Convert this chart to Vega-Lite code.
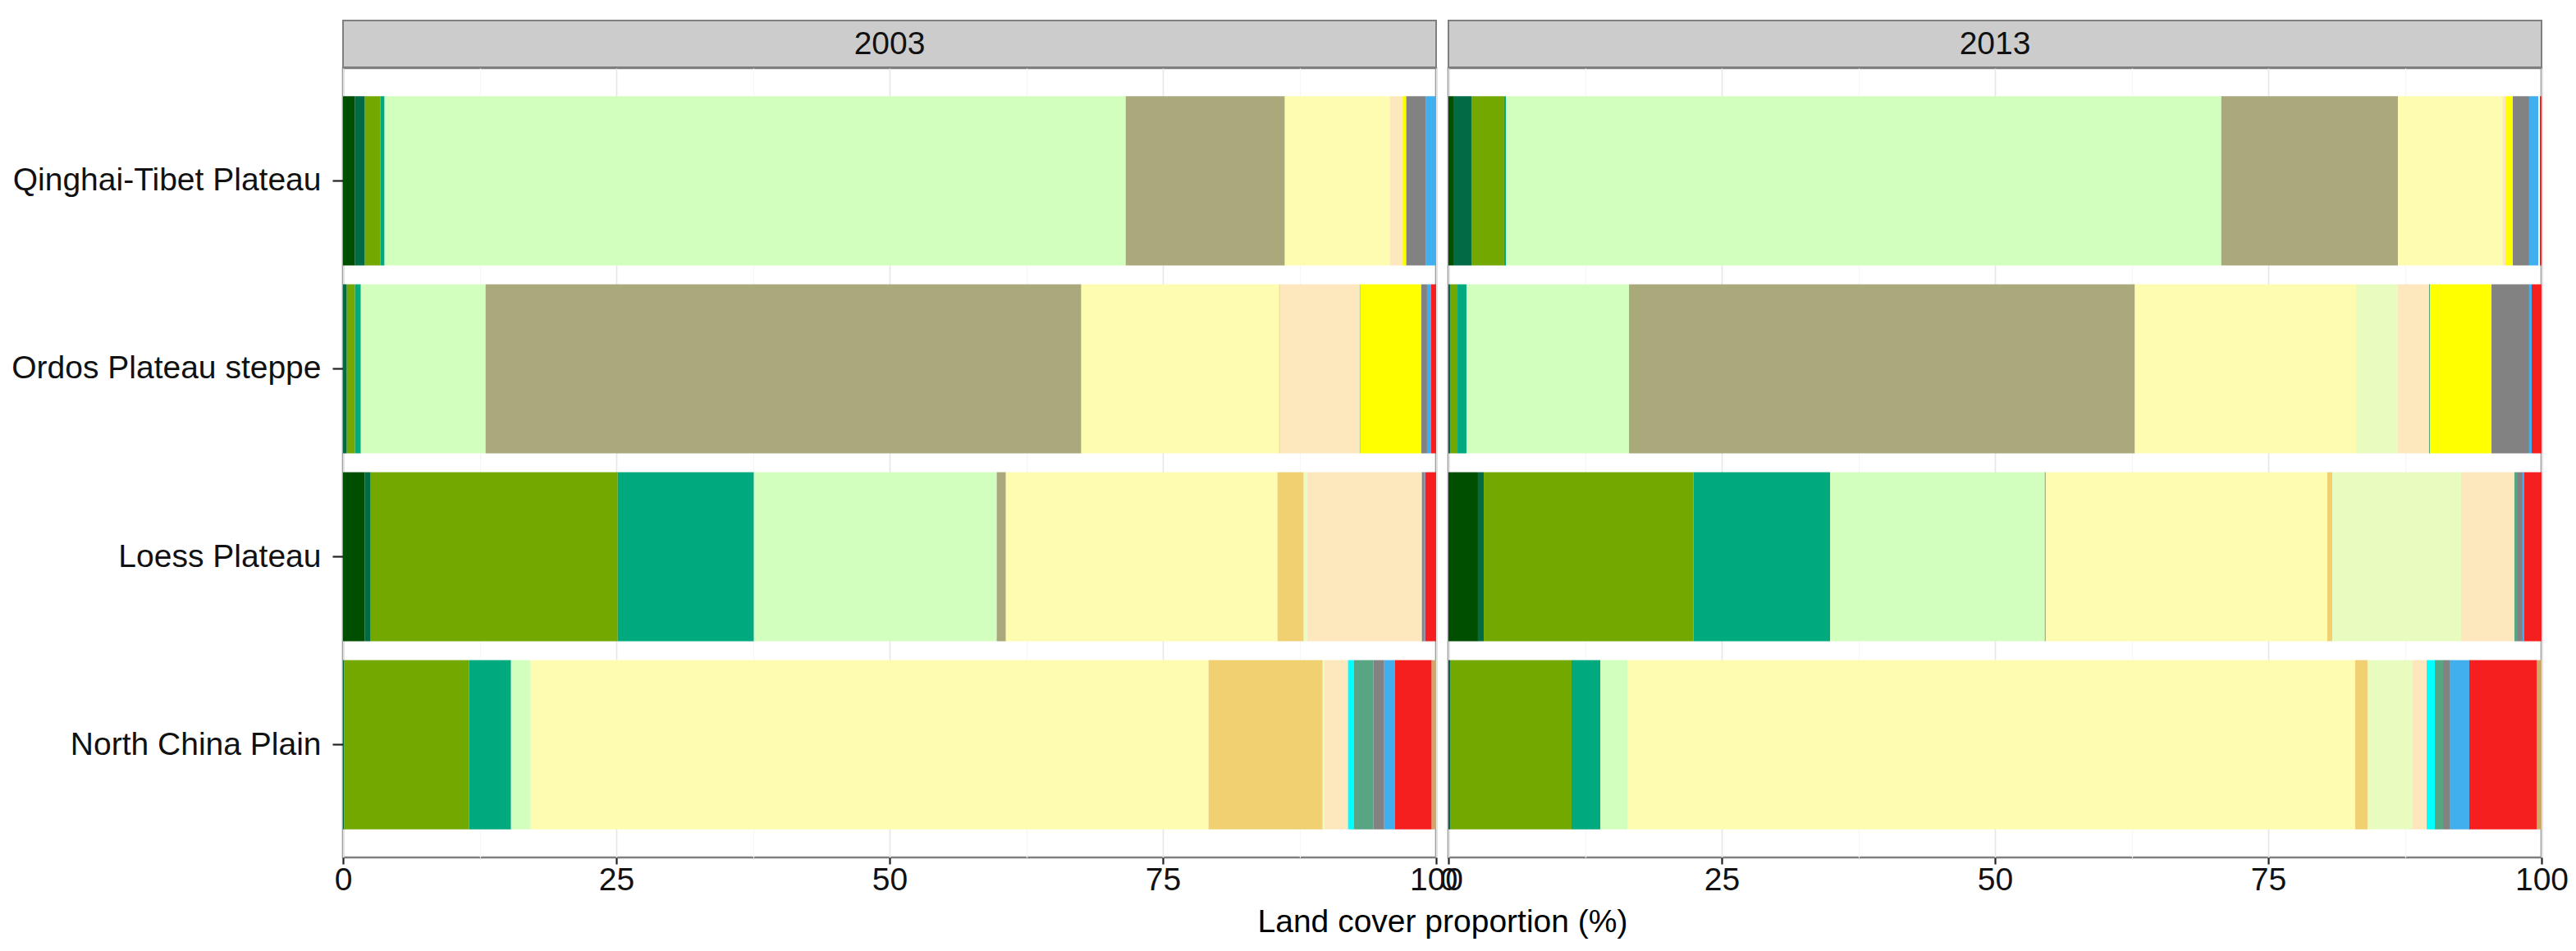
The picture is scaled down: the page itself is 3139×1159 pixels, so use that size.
{
  "$schema": "https://vega.github.io/schema/vega-lite/v6.json",
  "background": "white",
  "padding": {"left": 12, "top": 24, "right": 4, "bottom": 8},
  "config": {
    "font": "Liberation Sans",
    "view": {"stroke": null},
    "axis": {
      "labelFont": "Liberation Sans",
      "labelFontSize": 39,
      "labelColor": "#111111",
      "labelLimit": 0,
      "titleFont": "Liberation Sans",
      "titleFontSize": 39,
      "titleFontWeight": "normal",
      "titleColor": "#000000",
      "tickColor": "#222222",
      "tickWidth": 2.2,
      "domain": false
    }
  },
  "datasets": {
    "landcover": [
      {"region": "Qinghai-Tibet Plateau", "year": "2003", "code": 1, "class": "Evergreen needleleaf forest", "pct": 1.10},
      {"region": "Qinghai-Tibet Plateau", "year": "2003", "code": 2, "class": "Deciduous needleleaf forest", "pct": 0.90},
      {"region": "Qinghai-Tibet Plateau", "year": "2003", "code": 3, "class": "Deciduous broadleaf forest", "pct": 1.43},
      {"region": "Qinghai-Tibet Plateau", "year": "2003", "code": 4, "class": "Shrubland", "pct": 0.37},
      {"region": "Qinghai-Tibet Plateau", "year": "2003", "code": 5, "class": "Grassland", "pct": 67.80},
      {"region": "Qinghai-Tibet Plateau", "year": "2003", "code": 6, "class": "Sparse grassland", "pct": 14.56},
      {"region": "Qinghai-Tibet Plateau", "year": "2003", "code": 7, "class": "Cropland", "pct": 9.61},
      {"region": "Qinghai-Tibet Plateau", "year": "2003", "code": 10, "class": "Bare land", "pct": 1.13},
      {"region": "Qinghai-Tibet Plateau", "year": "2003", "code": 13, "class": "Sandy desert", "pct": 0.37},
      {"region": "Qinghai-Tibet Plateau", "year": "2003", "code": 14, "class": "Bare rock", "pct": 1.81},
      {"region": "Qinghai-Tibet Plateau", "year": "2003", "code": 15, "class": "Water", "pct": 0.92},

      {"region": "Ordos Plateau steppe", "year": "2003", "code": 2, "class": "Deciduous needleleaf forest", "pct": 0.35},
      {"region": "Ordos Plateau steppe", "year": "2003", "code": 3, "class": "Deciduous broadleaf forest", "pct": 0.75},
      {"region": "Ordos Plateau steppe", "year": "2003", "code": 4, "class": "Shrubland", "pct": 0.53},
      {"region": "Ordos Plateau steppe", "year": "2003", "code": 5, "class": "Grassland", "pct": 11.41},
      {"region": "Ordos Plateau steppe", "year": "2003", "code": 6, "class": "Sparse grassland", "pct": 54.50},
      {"region": "Ordos Plateau steppe", "year": "2003", "code": 7, "class": "Cropland", "pct": 18.10},
      {"region": "Ordos Plateau steppe", "year": "2003", "code": 8, "class": "Orchard", "pct": 0.08},
      {"region": "Ordos Plateau steppe", "year": "2003", "code": 10, "class": "Bare land", "pct": 7.29},
      {"region": "Ordos Plateau steppe", "year": "2003", "code": 11, "class": "Marsh", "pct": 0.07},
      {"region": "Ordos Plateau steppe", "year": "2003", "code": 13, "class": "Sandy desert", "pct": 5.56},
      {"region": "Ordos Plateau steppe", "year": "2003", "code": 14, "class": "Bare rock", "pct": 0.53},
      {"region": "Ordos Plateau steppe", "year": "2003", "code": 15, "class": "Water", "pct": 0.37},
      {"region": "Ordos Plateau steppe", "year": "2003", "code": 17, "class": "Built-up land", "pct": 0.46},

      {"region": "Loess Plateau", "year": "2003", "code": 1, "class": "Evergreen needleleaf forest", "pct": 2.00},
      {"region": "Loess Plateau", "year": "2003", "code": 2, "class": "Deciduous needleleaf forest", "pct": 0.53},
      {"region": "Loess Plateau", "year": "2003", "code": 3, "class": "Deciduous broadleaf forest", "pct": 22.60},
      {"region": "Loess Plateau", "year": "2003", "code": 4, "class": "Shrubland", "pct": 12.46},
      {"region": "Loess Plateau", "year": "2003", "code": 5, "class": "Grassland", "pct": 22.21},
      {"region": "Loess Plateau", "year": "2003", "code": 6, "class": "Sparse grassland", "pct": 0.84},
      {"region": "Loess Plateau", "year": "2003", "code": 7, "class": "Cropland", "pct": 24.85},
      {"region": "Loess Plateau", "year": "2003", "code": 8, "class": "Orchard", "pct": 2.40},
      {"region": "Loess Plateau", "year": "2003", "code": 9, "class": "Cropland/natural vegetation mosaic", "pct": 0.30},
      {"region": "Loess Plateau", "year": "2003", "code": 10, "class": "Bare land", "pct": 10.51},
      {"region": "Loess Plateau", "year": "2003", "code": 14, "class": "Bare rock", "pct": 0.17},
      {"region": "Loess Plateau", "year": "2003", "code": 15, "class": "Water", "pct": 0.13},
      {"region": "Loess Plateau", "year": "2003", "code": 17, "class": "Built-up land", "pct": 1.00},

      {"region": "North China Plain", "year": "2003", "code": 2, "class": "Deciduous needleleaf forest", "pct": 0.10},
      {"region": "North China Plain", "year": "2003", "code": 3, "class": "Deciduous broadleaf forest", "pct": 11.44},
      {"region": "North China Plain", "year": "2003", "code": 4, "class": "Shrubland", "pct": 3.83},
      {"region": "North China Plain", "year": "2003", "code": 5, "class": "Grassland", "pct": 1.80},
      {"region": "North China Plain", "year": "2003", "code": 7, "class": "Cropland", "pct": 62.01},
      {"region": "North China Plain", "year": "2003", "code": 8, "class": "Orchard", "pct": 10.44},
      {"region": "North China Plain", "year": "2003", "code": 9, "class": "Cropland/natural vegetation mosaic", "pct": 0.15},
      {"region": "North China Plain", "year": "2003", "code": 10, "class": "Bare land", "pct": 2.17},
      {"region": "North China Plain", "year": "2003", "code": 11, "class": "Marsh", "pct": 0.53},
      {"region": "North China Plain", "year": "2003", "code": 12, "class": "Wetland vegetation", "pct": 1.80},
      {"region": "North China Plain", "year": "2003", "code": 14, "class": "Bare rock", "pct": 0.98},
      {"region": "North China Plain", "year": "2003", "code": 15, "class": "Water", "pct": 0.97},
      {"region": "North China Plain", "year": "2003", "code": 17, "class": "Built-up land", "pct": 3.38},
      {"region": "North China Plain", "year": "2003", "code": 18, "class": "Other", "pct": 0.40},

      {"region": "Qinghai-Tibet Plateau", "year": "2013", "code": 1, "class": "Evergreen needleleaf forest", "pct": 0.45},
      {"region": "Qinghai-Tibet Plateau", "year": "2013", "code": 2, "class": "Deciduous needleleaf forest", "pct": 1.65},
      {"region": "Qinghai-Tibet Plateau", "year": "2013", "code": 3, "class": "Deciduous broadleaf forest", "pct": 3.00},
      {"region": "Qinghai-Tibet Plateau", "year": "2013", "code": 4, "class": "Shrubland", "pct": 0.16},
      {"region": "Qinghai-Tibet Plateau", "year": "2013", "code": 5, "class": "Grassland", "pct": 65.44},
      {"region": "Qinghai-Tibet Plateau", "year": "2013", "code": 6, "class": "Sparse grassland", "pct": 16.16},
      {"region": "Qinghai-Tibet Plateau", "year": "2013", "code": 7, "class": "Cropland", "pct": 9.61},
      {"region": "Qinghai-Tibet Plateau", "year": "2013", "code": 10, "class": "Bare land", "pct": 0.23},
      {"region": "Qinghai-Tibet Plateau", "year": "2013", "code": 13, "class": "Sandy desert", "pct": 0.67},
      {"region": "Qinghai-Tibet Plateau", "year": "2013", "code": 14, "class": "Bare rock", "pct": 1.50},
      {"region": "Qinghai-Tibet Plateau", "year": "2013", "code": 15, "class": "Water", "pct": 0.83},
      {"region": "Qinghai-Tibet Plateau", "year": "2013", "code": 16, "class": "Snow and ice", "pct": 0.15},
      {"region": "Qinghai-Tibet Plateau", "year": "2013", "code": 17, "class": "Built-up land", "pct": 0.15},

      {"region": "Ordos Plateau steppe", "year": "2013", "code": 2, "class": "Deciduous needleleaf forest", "pct": 0.15},
      {"region": "Ordos Plateau steppe", "year": "2013", "code": 3, "class": "Deciduous broadleaf forest", "pct": 0.68},
      {"region": "Ordos Plateau steppe", "year": "2013", "code": 4, "class": "Shrubland", "pct": 0.82},
      {"region": "Ordos Plateau steppe", "year": "2013", "code": 5, "class": "Grassland", "pct": 14.87},
      {"region": "Ordos Plateau steppe", "year": "2013", "code": 6, "class": "Sparse grassland", "pct": 46.28},
      {"region": "Ordos Plateau steppe", "year": "2013", "code": 7, "class": "Cropland", "pct": 20.23},
      {"region": "Ordos Plateau steppe", "year": "2013", "code": 9, "class": "Cropland/natural vegetation mosaic", "pct": 3.83},
      {"region": "Ordos Plateau steppe", "year": "2013", "code": 10, "class": "Bare land", "pct": 2.85},
      {"region": "Ordos Plateau steppe", "year": "2013", "code": 12, "class": "Wetland vegetation", "pct": 0.08},
      {"region": "Ordos Plateau steppe", "year": "2013", "code": 13, "class": "Sandy desert", "pct": 5.63},
      {"region": "Ordos Plateau steppe", "year": "2013", "code": 14, "class": "Bare rock", "pct": 3.45},
      {"region": "Ordos Plateau steppe", "year": "2013", "code": 15, "class": "Water", "pct": 0.23},
      {"region": "Ordos Plateau steppe", "year": "2013", "code": 17, "class": "Built-up land", "pct": 0.90},

      {"region": "Loess Plateau", "year": "2013", "code": 1, "class": "Evergreen needleleaf forest", "pct": 2.70},
      {"region": "Loess Plateau", "year": "2013", "code": 2, "class": "Deciduous needleleaf forest", "pct": 0.53},
      {"region": "Loess Plateau", "year": "2013", "code": 3, "class": "Deciduous broadleaf forest", "pct": 19.19},
      {"region": "Loess Plateau", "year": "2013", "code": 4, "class": "Shrubland", "pct": 12.49},
      {"region": "Loess Plateau", "year": "2013", "code": 5, "class": "Grassland", "pct": 19.64},
      {"region": "Loess Plateau", "year": "2013", "code": 6, "class": "Sparse grassland", "pct": 0.10},
      {"region": "Loess Plateau", "year": "2013", "code": 7, "class": "Cropland", "pct": 25.75},
      {"region": "Loess Plateau", "year": "2013", "code": 8, "class": "Orchard", "pct": 0.46},
      {"region": "Loess Plateau", "year": "2013", "code": 9, "class": "Cropland/natural vegetation mosaic", "pct": 11.78},
      {"region": "Loess Plateau", "year": "2013", "code": 10, "class": "Bare land", "pct": 4.88},
      {"region": "Loess Plateau", "year": "2013", "code": 12, "class": "Wetland vegetation", "pct": 0.23},
      {"region": "Loess Plateau", "year": "2013", "code": 14, "class": "Bare rock", "pct": 0.52},
      {"region": "Loess Plateau", "year": "2013", "code": 15, "class": "Water", "pct": 0.15},
      {"region": "Loess Plateau", "year": "2013", "code": 17, "class": "Built-up land", "pct": 1.58},

      {"region": "North China Plain", "year": "2013", "code": 2, "class": "Deciduous needleleaf forest", "pct": 0.15},
      {"region": "North China Plain", "year": "2013", "code": 3, "class": "Deciduous broadleaf forest", "pct": 11.11},
      {"region": "North China Plain", "year": "2013", "code": 4, "class": "Shrubland", "pct": 2.63},
      {"region": "North China Plain", "year": "2013", "code": 5, "class": "Grassland", "pct": 2.48},
      {"region": "North China Plain", "year": "2013", "code": 7, "class": "Cropland", "pct": 66.59},
      {"region": "North China Plain", "year": "2013", "code": 8, "class": "Orchard", "pct": 1.12},
      {"region": "North China Plain", "year": "2013", "code": 9, "class": "Cropland/natural vegetation mosaic", "pct": 4.08},
      {"region": "North China Plain", "year": "2013", "code": 10, "class": "Bare land", "pct": 1.33},
      {"region": "North China Plain", "year": "2013", "code": 11, "class": "Marsh", "pct": 0.75},
      {"region": "North China Plain", "year": "2013", "code": 12, "class": "Wetland vegetation", "pct": 0.75},
      {"region": "North China Plain", "year": "2013", "code": 14, "class": "Bare rock", "pct": 0.60},
      {"region": "North China Plain", "year": "2013", "code": 15, "class": "Water", "pct": 1.80},
      {"region": "North China Plain", "year": "2013", "code": 17, "class": "Built-up land", "pct": 6.16},
      {"region": "North China Plain", "year": "2013", "code": 18, "class": "Other", "pct": 0.45}
    ]
  },
  "columns": 2,
  "spacing": {"row": 1, "column": 15},
  "bounds": "flush",
  "concat": [
    {
      "width": 1332,
      "height": 57,
      "data": {"values": [{"year": "2003"}]},
      "view": {"fill": "#cccccc", "stroke": "#7f7f7f", "strokeWidth": 2},
      "mark": {"type": "text", "fontSize": 39, "font": "Liberation Sans", "color": "#111111", "align": "center", "baseline": "middle"},
      "encoding": {"text": {"field": "year", "type": "nominal"}}
    },
    {
      "width": 1332,
      "height": 57,
      "data": {"values": [{"year": "2013"}]},
      "view": {"fill": "#cccccc", "stroke": "#7f7f7f", "strokeWidth": 2},
      "mark": {"type": "text", "fontSize": 39, "font": "Liberation Sans", "color": "#111111", "align": "center", "baseline": "middle"},
      "encoding": {"text": {"field": "year", "type": "nominal"}}
    },
    {
      "width": 1332,
      "height": 962,
      "data": {"name": "landcover"},
      "transform": [{"filter": "datum.year == '2003'"}],
      "view": {"fill": "white", "stroke": "#7f7f7f", "strokeWidth": 2.5},
      "mark": {"type": "bar", "strokeWidth": 0, "clip": true},
      "encoding": {
        "y": {
          "field": "region", "type": "nominal",
          "sort": ["Qinghai-Tibet Plateau", "Ordos Plateau steppe", "Loess Plateau", "North China Plain"],
          "scale": {"paddingInner": 0.1, "paddingOuter": 0.15},
          "axis": {"title": null, "grid": false, "tickSize": 13, "labelPadding": 14, "labelLimit": 0}
        },
        "x": {
          "field": "pct", "type": "quantitative", "stack": "zero",
          "scale": {"domain": [0, 100], "nice": false},
          "axis": {
            "values": [0, 12.5, 25, 37.5, 50, 62.5, 75, 87.5, 100],
            "grid": true,
            "gridColor": {"condition": {"test": "datum.value % 25 === 0", "value": "#e6e6e6"}, "value": "#f6f6f6"},
            "gridWidth": {"condition": {"test": "datum.value % 25 === 0", "value": 1.6}, "value": 1.2},
            "tickOpacity": {"condition": {"test": "datum.value % 25 === 0", "value": 1}, "value": 0},
            "labelExpr": "datum.value % 25 === 0 ? datum.label : ''",
            "tickSize": 8,
            "labelPadding": 0,
            "labelFlush": false,
            "labelOverlap": false,
            "labelBound": false,
            "title": "Land cover proportion (%)",
            "titleX": 1339.5,
            "titleAlign": "center",
            "titlePadding": 12
          }
        },
        "color": {
          "field": "class", "type": "nominal", "legend": null,
          "scale": {
            "domain": ["Evergreen needleleaf forest", "Deciduous needleleaf forest", "Deciduous broadleaf forest", "Shrubland", "Grassland", "Sparse grassland", "Cropland", "Orchard", "Cropland/natural vegetation mosaic", "Bare land", "Marsh", "Wetland vegetation", "Sandy desert", "Bare rock", "Water", "Snow and ice", "Built-up land", "Other"],
            "range": ["#004f00", "#006b45", "#73a800", "#00a97e", "#d3ffbe", "#aaa97c", "#fefcb0", "#f1d072", "#e8fcc0", "#fde8bd", "#00ffff", "#58a583", "#ffff00", "#828282", "#41aeee", "#ffffff", "#f51f1f", "#cda868"]
          }
        },
        "order": {"field": "code", "type": "quantitative", "sort": "ascending"}
      }
    },
    {
      "width": 1332,
      "height": 962,
      "data": {"name": "landcover"},
      "transform": [{"filter": "datum.year == '2013'"}],
      "view": {"fill": "white", "stroke": "#7f7f7f", "strokeWidth": 2.5},
      "mark": {"type": "bar", "strokeWidth": 0, "clip": true},
      "encoding": {
        "y": {
          "field": "region", "type": "nominal",
          "sort": ["Qinghai-Tibet Plateau", "Ordos Plateau steppe", "Loess Plateau", "North China Plain"],
          "scale": {"paddingInner": 0.1, "paddingOuter": 0.15},
          "axis": null
        },
        "x": {
          "field": "pct", "type": "quantitative", "stack": "zero",
          "scale": {"domain": [0, 100], "nice": false},
          "axis": {
            "values": [0, 12.5, 25, 37.5, 50, 62.5, 75, 87.5, 100],
            "grid": true,
            "gridColor": {"condition": {"test": "datum.value % 25 === 0", "value": "#e6e6e6"}, "value": "#f6f6f6"},
            "gridWidth": {"condition": {"test": "datum.value % 25 === 0", "value": 1.6}, "value": 1.2},
            "tickOpacity": {"condition": {"test": "datum.value % 25 === 0", "value": 1}, "value": 0},
            "labelExpr": "datum.value % 25 === 0 ? datum.label : ''",
            "tickSize": 8,
            "labelPadding": 0,
            "labelFlush": false,
            "labelOverlap": false,
            "labelBound": false,
            "title": null
          }
        },
        "color": {
          "field": "class", "type": "nominal", "legend": null,
          "scale": {
            "domain": ["Evergreen needleleaf forest", "Deciduous needleleaf forest", "Deciduous broadleaf forest", "Shrubland", "Grassland", "Sparse grassland", "Cropland", "Orchard", "Cropland/natural vegetation mosaic", "Bare land", "Marsh", "Wetland vegetation", "Sandy desert", "Bare rock", "Water", "Snow and ice", "Built-up land", "Other"],
            "range": ["#004f00", "#006b45", "#73a800", "#00a97e", "#d3ffbe", "#aaa97c", "#fefcb0", "#f1d072", "#e8fcc0", "#fde8bd", "#00ffff", "#58a583", "#ffff00", "#828282", "#41aeee", "#ffffff", "#f51f1f", "#cda868"]
          }
        },
        "order": {"field": "code", "type": "quantitative", "sort": "ascending"}
      }
    }
  ]
}
